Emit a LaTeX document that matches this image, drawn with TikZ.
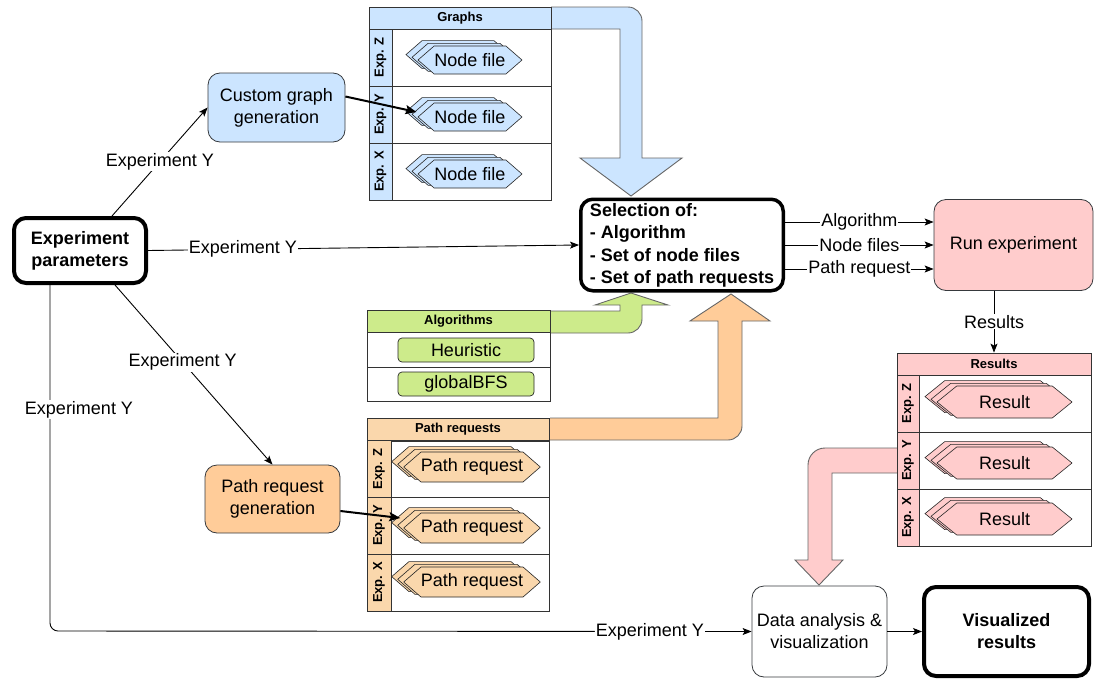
\documentclass[tikz,border=0pt]{standalone}
\usepackage{fontspec}
\setmainfont{Liberation Sans}
\usetikzlibrary{arrows.meta,shapes.symbols,shadows}
\definecolor{gblue}{HTML}{CCE5FF}
\definecolor{ggreen}{HTML}{CDEB8B}
\definecolor{gorange}{HTML}{FFCC99}
\definecolor{lorange}{HTML}{FAD7AC}
\definecolor{gpink}{HTML}{FFCCCC}
\definecolor{strk}{HTML}{36393D}
\definecolor{astrk}{HTML}{666666}
\tikzset{
 mainf/.style={font=\fontsize{18}{22}\selectfont},
 box/.style={draw=strk, rounded corners=12pt, align=center, mainf, line width=0.8pt, inner sep=0pt},
 thickbox/.style={draw=black, line width=4pt, rounded corners=12pt, align=center, font=\fontsize{18}{22}\selectfont\bfseries, inner sep=0pt},
 conn/.style={draw=black, line width=0.9pt, -{Stealth[length=9pt,width=7pt,inset=2pt]}},
 thickconn/.style={draw=black, line width=2pt, -{Stealth[length=11pt,width=9pt,inset=2pt]}},
 lbl/.style={fill=white, inner sep=1pt, mainf},
 hexn/.style={shape=signal, signal to=west and east, signal pointer angle=82, draw=black!85, line width=0.6pt, inner sep=0pt, mainf, double copy shadow={shadow xshift=-6pt, shadow yshift=2.7pt}},
 tline/.style={draw=black!80, line width=0.8pt},
 hdr/.style={font=\fontsize{13}{15}\selectfont\bfseries, inner sep=0pt},
 cell/.style={tline, inner sep=0pt},
 bigarrow/.style={draw=astrk, line width=0.9pt, line join=miter},
 algbox/.style={draw=black!85, fill=ggreen, rounded corners=4pt, line width=0.7pt, minimum width=136pt, minimum height=24pt, inner sep=0pt, mainf},
}
\begin{document}
\begin{tikzpicture}[x=1pt,y=-1pt]
\useasboundingbox (0,0) rectangle (1094,680);

% ---------- big arrows ----------
\filldraw[bigarrow, fill=gblue] (551,7) -- (628,7) .. controls (635.7,7) and (642,13.3) .. (642,21) -- (642,158) -- (682,158) -- (631,196) -- (580,158) -- (620,158) -- (620,29) -- (551,29);
\filldraw[bigarrow, fill=ggreen] (551,311) -- (620,311) -- (620,305) -- (595,305) -- (631,293) -- (668,305) -- (642,305) -- (642,319) .. controls (642,326.7) and (635.7,333) .. (628,333) -- (551,333);
\filldraw[bigarrow, fill=gorange] (550,418) -- (718,418) -- (718,321) -- (690,321) -- (731,294) -- (770,321) -- (742,321) -- (742,426) .. controls (742,433.7) and (735.7,440) .. (728,440) -- (550,440);
\filldraw[bigarrow, fill=gpink] (897,448) -- (825,448) .. controls (815.6,448) and (808,455.6) .. (808,465) -- (808,560) -- (795,560) -- (819,585) -- (843,560) -- (832,560) -- (832,473) -- (897,473);

% ---------- Graphs table ----------
\node[cell, fill=gblue, minimum width=182pt, minimum height=22pt, hdr] (ghdr) at (460,18) {Graphs};
\foreach \yy/\lab/\nm in {57.5/Z/gz,114.5/Y/gy,171.5/X/gx}{
  \node[cell, minimum width=182pt, minimum height=57pt] (\nm row) at (460,\yy) {};
  \node[cell, fill=gblue, minimum width=23pt, minimum height=57pt] (\nm strip) at (380.5,\yy) {};
  \node[hdr, rotate=90] (\nm lab) at (380.5,\yy) {Exp. \lab};
}
\node[hexn, fill=gblue, minimum width=104pt, minimum height=28pt] (nfZ) at (470,60) {Node file};
\node[hexn, fill=gblue, minimum width=104pt, minimum height=28pt] (nfY) at (470,117) {Node file};
\node[hexn, fill=gblue, minimum width=104pt, minimum height=28pt] (nfX) at (470,174) {Node file};

% ---------- Algorithms table ----------
\node[cell, fill=ggreen, minimum width=183pt, minimum height=22pt, hdr] (ahdr) at (458.5,321) {Algorithms};
\node[cell, minimum width=183pt, minimum height=35pt] (arow1) at (458.5,349.5) {};
\node[cell, minimum width=183pt, minimum height=34pt] (arow2) at (458.5,384) {};
\node[algbox] (heur) at (466,350) {Heuristic};
\node[algbox] (gbfs) at (466,384) {globalBFS};

% ---------- Path requests table ----------
\node[cell, fill=lorange, minimum width=182pt, minimum height=23pt, hdr] (phdr) at (458,429.5) {Path requests};
\foreach \yy/\lab/\nm in {469/Z/pz,525.5/Y/py,582.5/X/px}{
  \node[cell, minimum width=182pt, minimum height=57pt] (\nm row) at (458,\yy) {};
  \node[cell, fill=lorange, minimum width=24pt, minimum height=57pt] (\nm strip) at (379,\yy) {};
  \node[hdr, rotate=90] (\nm lab) at (379,\yy) {Exp. \lab};
}
\node[hexn, fill=lorange, minimum width=134pt, minimum height=30pt] (prZ) at (472,467) {Path request};
\node[hexn, fill=lorange, minimum width=134pt, minimum height=30pt] (prY) at (472,528) {Path request};
\node[hexn, fill=lorange, minimum width=134pt, minimum height=30pt] (prX) at (472,582) {Path request};

% ---------- Results table ----------
\node[cell, fill=gpink, minimum width=194pt, minimum height=22pt, hdr] (rhdr) at (994,364) {Results};
\foreach \yy/\lab/\nm in {403.5/Z/rz,460.5/Y/ry,517.5/X/rx}{
  \node[cell, minimum width=194pt, minimum height=57pt] (\nm row) at (994,\yy) {};
  \node[cell, fill=gpink, minimum width=22pt, minimum height=57pt] (\nm strip) at (908,\yy) {};
  \node[hdr, rotate=90] (\nm lab) at (908,\yy) {Exp. \lab};
}
\node[hexn, fill=gpink, signal pointer angle=78, minimum width=135pt, minimum height=32pt] (reZ) at (1004.5,402) {Result};
\node[hexn, fill=gpink, signal pointer angle=78, minimum width=135pt, minimum height=32pt] (reY) at (1004.5,463) {Result};
\node[hexn, fill=gpink, signal pointer angle=78, minimum width=135pt, minimum height=32pt] (reX) at (1004.5,519) {Result};

% ---------- boxes ----------
\node[thickbox, minimum width=132pt, minimum height=65pt] (params) at (80,250.5) {Experiment\\parameters};
\node[box, fill=gblue, minimum width=137pt, minimum height=69pt] (custom) at (276.5,107.5) {Custom graph\\generation};
\node[box, fill=gorange, minimum width=135pt, minimum height=68pt] (pgen) at (272.5,499) {Path request\\generation};
\node[thickbox, line width=3.5pt, minimum width=202.5pt, minimum height=91.5pt, align=left, font=\fontsize{18}{22.3}\selectfont\bfseries, text depth=3pt] (sel) at (682,245) {Selection of:\\- Algorithm\\- Set of node files\\- Set of path requests};
\node[box, fill=gpink, minimum width=159pt, minimum height=91pt] (run) at (1013.5,245) {Run experiment};
\node[box, fill=white, minimum width=135pt, minimum height=91pt] (da) at (819.5,631.5) {Data analysis \&\\visualization};
\node[thickbox, minimum width=165pt, minimum height=89pt] (vis) at (1006.5,631.5) {Visualized\\results};

% ---------- connectors ----------
\coordinate (c1) at (50,631);
\draw[conn] ([xshift=32pt]params.north) -- node[lbl, pos=0.5]{Experiment Y} (custom.west);
\draw[conn] (params.east) -- node[lbl, pos=0.22]{Experiment Y} (sel.west);
\draw[conn] ([xshift=35pt]params.south) -- node[lbl, pos=0.43]{Experiment Y} (pgen.north);
\draw[conn, rounded corners=8pt] (params.south -| c1) -- node[lbl, pos=0.36, xshift=29pt]{Experiment Y} (c1) -- node[lbl, pos=0.855]{Experiment Y} (da.west);
\draw[thickconn] ([yshift=11pt]custom.east) -- ([xshift=-1pt,yshift=5pt]nfY.west);
\draw[thickconn] ([yshift=-12pt]pgen.east) -- ([xshift=-3pt,yshift=10pt]prY.west);
\draw[conn] ([yshift=23pt]sel.east) -- node[lbl]{Algorithm} ([yshift=23pt]run.west);
\draw[conn] (sel.east) -- node[lbl]{Node files} (run.west);
\draw[conn] ([yshift=-24pt]sel.east) -- node[lbl]{Path request} ([yshift=-24pt]run.west);
\draw[conn] (run.south -| rhdr.north) -- node[lbl]{Results} (rhdr.north);
\draw[conn] (da.east) -- (vis.west);
\end{tikzpicture}
\end{document}
